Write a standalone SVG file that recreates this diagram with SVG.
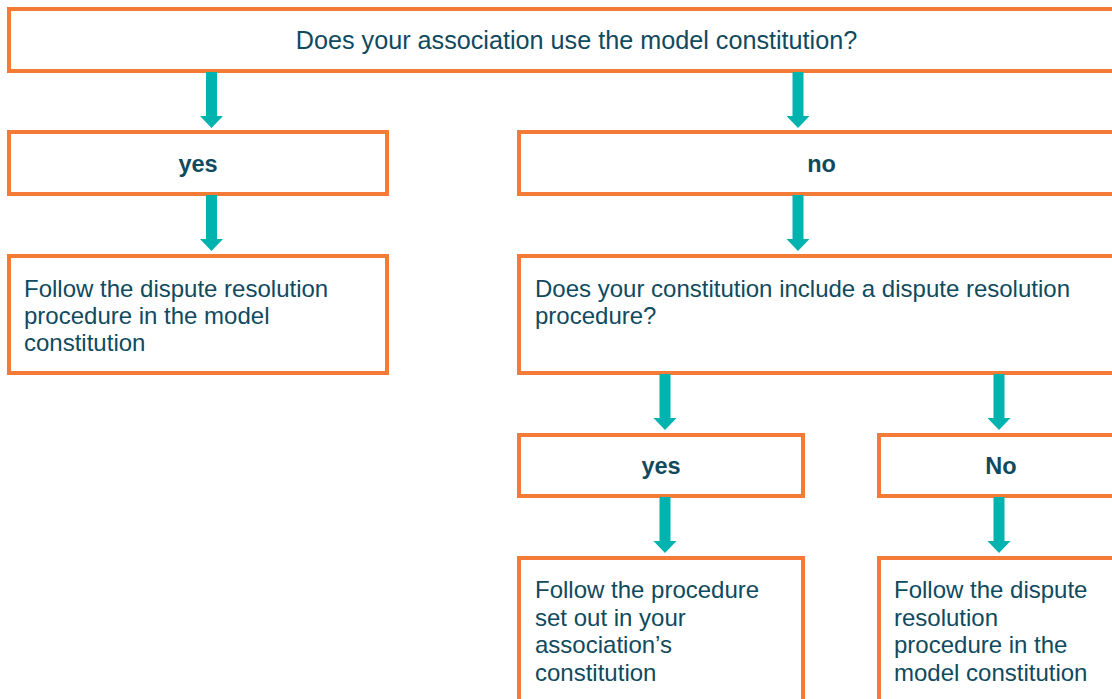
<svg xmlns="http://www.w3.org/2000/svg" width="1112" height="699" viewBox="0 0 1112 699">
  <defs>
    <style>
      .box { fill: #ffffff; stroke: #F47B36; stroke-width: 4; }
      .txt { font-family: "Liberation Sans", Arial, sans-serif; font-size: 24px; fill: #0F4A5E; }
      .title { font-size: 25.2px; }
      .lbl { font-family: "Liberation Sans", Arial, sans-serif; font-size: 23.5px; font-weight: bold; fill: #0F4A5E; text-anchor: middle; }
      .arrow { fill: #00B3AE; }
    </style>
    <!-- down arrow: shaft 11 wide, head 23 wide and 12 tall, tip at origin -->
    <path id="down" d="M-5.5,0 V44 H-11.5 L0,56 L11.5,44 H5.5 V0 Z"/>
  </defs>

  <rect width="1112" height="699" fill="#ffffff"/>

  <g id="q-model">
    <rect class="box" x="9" y="9" width="1140" height="62"/>
    <text class="txt title" x="576.5" y="48.5" text-anchor="middle">Does your association use the model constitution?</text>
  </g>

  <g id="yes-model">
    <rect class="box" x="9" y="132" width="378" height="62"/>
    <text class="lbl" x="198" y="172">yes</text>
  </g>

  <g id="no-model">
    <rect class="box" x="519" y="132" width="604" height="62"/>
    <text class="lbl" x="821.5" y="172">no</text>
  </g>

  <g id="follow-model">
    <rect class="box" x="9" y="256" width="378" height="117"/>
    <text class="txt" x="24" y="297">Follow the dispute resolution</text>
    <text class="txt" x="24" y="324">procedure in the model</text>
    <text class="txt" x="24" y="351">constitution</text>
  </g>

  <g id="q-own">
    <rect class="box" x="519" y="256" width="604" height="117"/>
    <text class="txt" x="535" y="297">Does your constitution include a dispute resolution</text>
    <text class="txt" x="535" y="324">procedure?</text>
  </g>

  <g id="yes-own">
    <rect class="box" x="519" y="435" width="284" height="61"/>
    <text class="lbl" x="661" y="474">yes</text>
  </g>

  <g id="no-own">
    <rect class="box" x="879" y="435" width="244" height="61"/>
    <text class="lbl" x="1001" y="474">No</text>
  </g>

  <g id="follow-own">
    <rect class="box" x="519" y="558" width="284" height="160"/>
    <text class="txt" x="535" y="598">Follow the procedure</text>
    <text class="txt" x="535" y="625.5">set out in your</text>
    <text class="txt" x="535" y="653">association’s</text>
    <text class="txt" x="535" y="680.5">constitution</text>
  </g>

  <g id="follow-model-2">
    <rect class="box" x="879" y="558" width="244" height="160"/>
    <text class="txt" x="894" y="598">Follow the dispute</text>
    <text class="txt" x="894" y="625.5">resolution</text>
    <text class="txt" x="894" y="653">procedure in the</text>
    <text class="txt" x="894" y="680.5">model constitution</text>
  </g>

  <g id="connectors" class="arrow">
    <use href="#down" x="211.5" y="72"/>
    <use href="#down" x="798" y="72"/>
    <use href="#down" x="211.5" y="195"/>
    <use href="#down" x="798" y="195"/>
    <use href="#down" x="665" y="374"/>
    <use href="#down" x="999" y="374"/>
    <use href="#down" x="665" y="497"/>
    <use href="#down" x="999" y="497"/>
  </g>
</svg>
